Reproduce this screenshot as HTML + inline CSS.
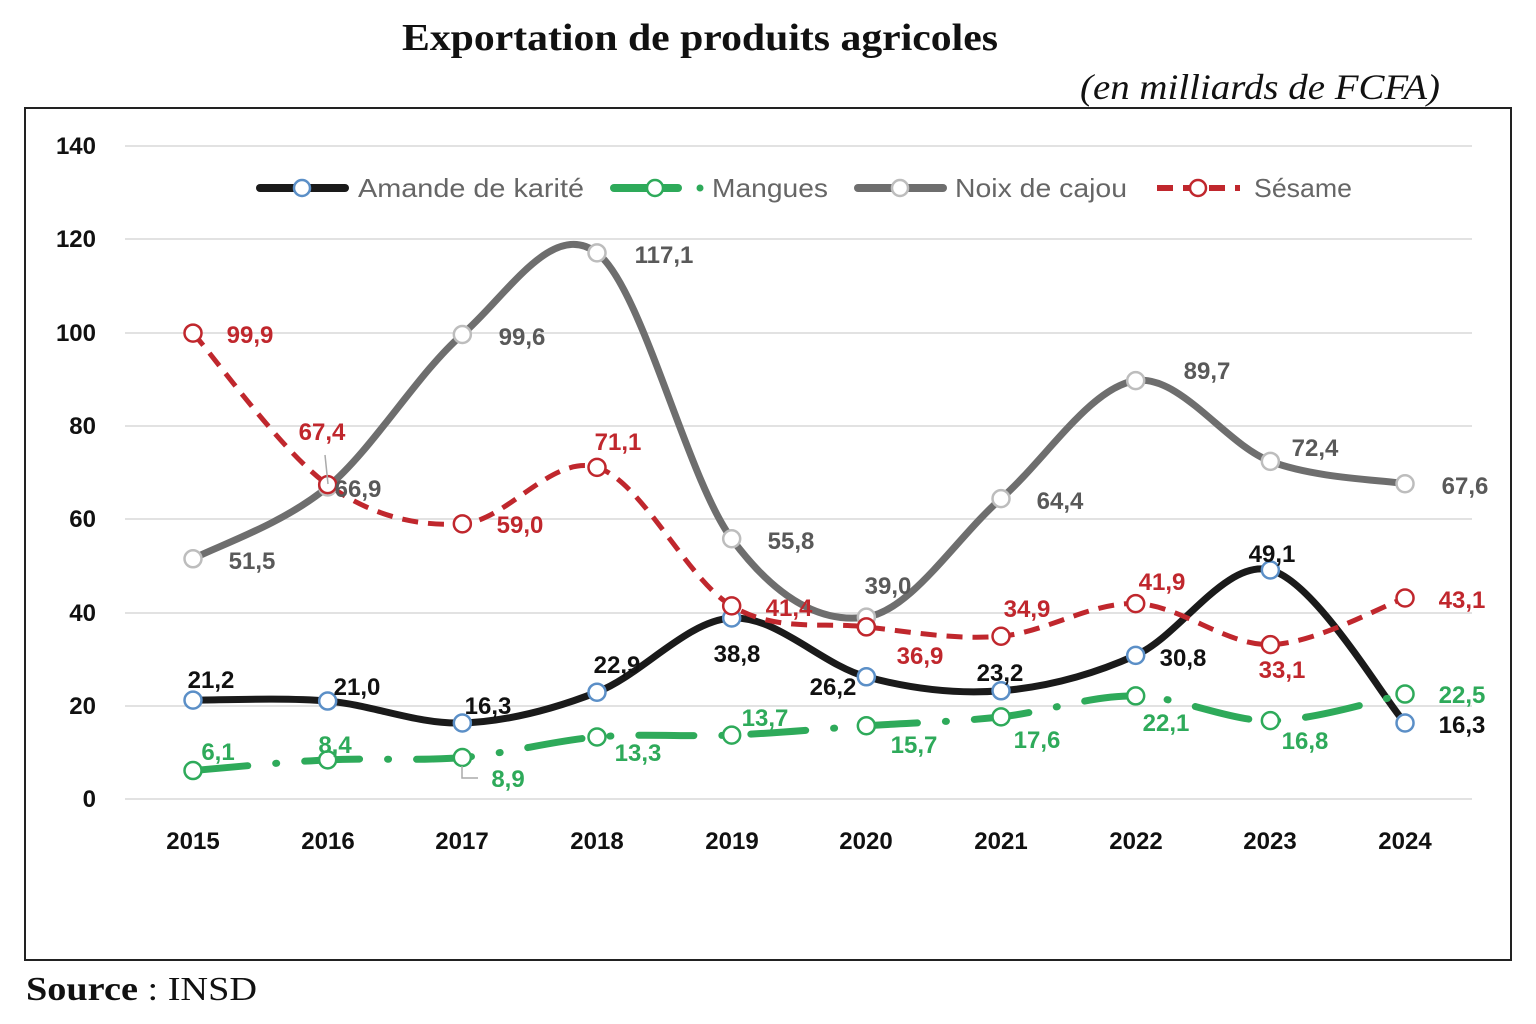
<!DOCTYPE html>
<html><head><meta charset="utf-8"><style>
body{margin:0;background:#fff;}
svg text{font-family:"Liberation Sans",sans-serif;}
</style></head><body>
<svg id="s" width="1536" height="1019" viewBox="0 0 1536 1019" xmlns="http://www.w3.org/2000/svg">
<rect width="1536" height="1019" fill="#fff"/>
<text x="402" y="50" textLength="596" lengthAdjust="spacingAndGlyphs" style="font-family:'Liberation Serif',serif;font-weight:bold;font-size:38px" fill="#111">Exportation de produits agricoles</text>
<text x="1080" y="99" textLength="360" lengthAdjust="spacingAndGlyphs" style="font-family:'Liberation Serif',serif;font-style:italic;font-size:36px" fill="#111">(en milliards de FCFA)</text>
<rect x="25" y="108" width="1486" height="852" fill="none" stroke="#222" stroke-width="2"/>
<g stroke="#d9d9d9" stroke-width="1.5">
<line x1="125" x2="1472" y1="146" y2="146"/><line x1="125" x2="1472" y1="239" y2="239"/><line x1="125" x2="1472" y1="333" y2="333"/><line x1="125" x2="1472" y1="426" y2="426"/><line x1="125" x2="1472" y1="519" y2="519"/><line x1="125" x2="1472" y1="613" y2="613"/><line x1="125" x2="1472" y1="706" y2="706"/><line x1="125" x2="1472" y1="799" y2="799"/>
</g>
<g font-weight="bold" font-size="24" fill="#111" text-anchor="end">
<text x="96" y="154">140</text><text x="96" y="247">120</text><text x="96" y="341">100</text><text x="96" y="434">80</text><text x="96" y="527">60</text><text x="96" y="621">40</text><text x="96" y="714">20</text><text x="96" y="807">0</text>
</g>
<g font-weight="bold" font-size="24" fill="#111" text-anchor="middle">
<text x="193" y="849">2015</text><text x="328" y="849">2016</text><text x="462" y="849">2017</text><text x="597" y="849">2018</text><text x="732" y="849">2019</text><text x="866" y="849">2020</text><text x="1001" y="849">2021</text><text x="1136" y="849">2022</text><text x="1270" y="849">2023</text><text x="1405" y="849">2024</text>
</g>
<line x1="260" x2="345" y1="188" y2="188" stroke="#1a1a1a" stroke-width="8" stroke-linecap="round"/>
<circle cx="302" cy="188" r="8" fill="#fff" stroke="#5b8fc7" stroke-width="2.5"/>
<line x1="614" x2="678" y1="188" y2="188" stroke="#2eaa5a" stroke-width="8" stroke-linecap="round"/>
<circle cx="700" cy="188" r="3.5" fill="#2eaa5a"/>
<circle cx="655" cy="188" r="8" fill="#fff" stroke="#2eaa5a" stroke-width="2.5"/>
<line x1="858" x2="943" y1="188" y2="188" stroke="#6e6e6e" stroke-width="8" stroke-linecap="round"/>
<circle cx="900" cy="188" r="8" fill="#fff" stroke="#bdbdbd" stroke-width="2.5"/>
<line x1="1157" x2="1240" y1="188" y2="188" stroke="#c0272d" stroke-width="6" stroke-dasharray="16 10"/>
<circle cx="1198" cy="188" r="8" fill="#fff" stroke="#c0272d" stroke-width="2.5"/>
<g font-size="26" fill="#666">
<text x="358" y="197" textLength="226" lengthAdjust="spacingAndGlyphs">Amande de karité</text><text x="712" y="197" textLength="116" lengthAdjust="spacingAndGlyphs">Mangues</text><text x="955" y="197" textLength="172" lengthAdjust="spacingAndGlyphs">Noix de cajou</text><text x="1254" y="197" textLength="98" lengthAdjust="spacingAndGlyphs">Sésame</text>
</g>
<g id="series"></g>
<g font-weight="bold" font-size="24" fill="#595959" text-anchor="middle">
<text x="252" y="569">51,5</text><text x="358" y="497">66,9</text><text x="522" y="345">99,6</text><text x="664" y="263">117,1</text><text x="791" y="549">55,8</text><text x="888" y="594">39,0</text><text x="1060" y="509">64,4</text><text x="1207" y="379">89,7</text><text x="1315" y="456">72,4</text><text x="1465" y="494">67,6</text>
</g>
<g font-weight="bold" font-size="24" fill="#c0272d" text-anchor="middle">
<text x="250" y="343">99,9</text><text x="322" y="440">67,4</text><text x="520" y="533">59,0</text><text x="618" y="450">71,1</text><text x="789" y="616">41,4</text><text x="920" y="664">36,9</text><text x="1027" y="617">34,9</text><text x="1162" y="590">41,9</text><text x="1282" y="678">33,1</text><text x="1462" y="608">43,1</text>
</g>
<g font-weight="bold" font-size="24" fill="#111" text-anchor="middle">
<text x="211" y="688">21,2</text><text x="357" y="695">21,0</text><text x="488" y="714">16,3</text><text x="617" y="673">22,9</text><text x="737" y="662">38,8</text><text x="833" y="695">26,2</text><text x="1000" y="681">23,2</text><text x="1183" y="666">30,8</text><text x="1272" y="562">49,1</text><text x="1462" y="733">16,3</text>
</g>
<g font-weight="bold" font-size="24" fill="#2eaa5a" text-anchor="middle">
<text x="218" y="760">6,1</text><text x="335" y="753">8,4</text><text x="508" y="787">8,9</text><text x="638" y="761">13,3</text><text x="765" y="726">13,7</text><text x="914" y="753">15,7</text><text x="1037" y="748">17,6</text><text x="1166" y="731">22,1</text><text x="1305" y="749">16,8</text><text x="1462" y="703">22,5</text>
</g>
<polyline points="462,766 462,778 478,778" fill="none" stroke="#aaa" stroke-width="1.5"/>
<line x1="328" y1="484" x2="325" y2="455" stroke="#aaa" stroke-width="1.5"/>
<text x="26" y="1000" textLength="231" lengthAdjust="spacingAndGlyphs" style="font-family:'Liberation Serif',serif;font-size:34px" fill="#111"><tspan font-weight="bold">Source</tspan> : INSD</text>
</svg>
<script>
var X=function(i){return 193+i*134.67},Y=function(v){return 799-v*4.664};
var S=[
{d:[21.2,21.0,16.3,22.9,38.8,26.2,23.2,30.8,49.1,16.3],c:"#1a1a1a",m:"#5b8fc7",w:7,da:""},
{d:[6.1,8.4,8.9,13.3,13.7,15.7,17.6,22.1,16.8,22.5],c:"#2eaa5a",m:"#2eaa5a",w:7,da:"55 28 1 28",lc:"round"},
{d:[51.5,66.9,99.6,117.1,55.8,39.0,64.4,89.7,72.4,67.6],c:"#6e6e6e",m:"#bdbdbd",w:7,da:""},
{d:[99.9,67.4,59.0,71.1,41.4,36.9,34.9,41.9,33.1,43.1],c:"#c0272d",m:"#c0272d",w:5,da:"16 10"}];
var g=document.getElementById("series"),ns="http://www.w3.org/2000/svg",mk=[];
S.forEach(function(s){
 var p=s.d.map(function(v,i){return [X(i),Y(v)]});
 var d="M"+p[0][0]+","+p[0][1];
 for(var i=0;i<p.length-1;i++){
  var p0=p[i-1]||p[i],p1=p[i],p2=p[i+1],p3=p[i+2]||p2,t=6;
  d+=" C"+(p1[0]+(p2[0]-p0[0])/t)+","+(p1[1]+(p2[1]-p0[1])/t)+" "+(p2[0]-(p3[0]-p1[0])/t)+","+(p2[1]-(p3[1]-p1[1])/t)+" "+p2[0]+","+p2[1];
 }
 var e=document.createElementNS(ns,"path");
 e.setAttribute("d",d);e.setAttribute("fill","none");e.setAttribute("stroke",s.c);
 e.setAttribute("stroke-width",s.w);if(s.da)e.setAttribute("stroke-dasharray",s.da);
 e.setAttribute("stroke-linecap",s.lc||"butt");g.appendChild(e);
 p.forEach(function(q){mk.push([q,s.m])});
});
mk.forEach(function(a){var c=document.createElementNS(ns,"circle");c.setAttribute("cx",a[0][0]);c.setAttribute("cy",a[0][1]);c.setAttribute("r",8.5);c.setAttribute("fill","#fff");c.setAttribute("stroke",a[1]);c.setAttribute("stroke-width",2.5);g.appendChild(c);});
</script>
</body></html>
